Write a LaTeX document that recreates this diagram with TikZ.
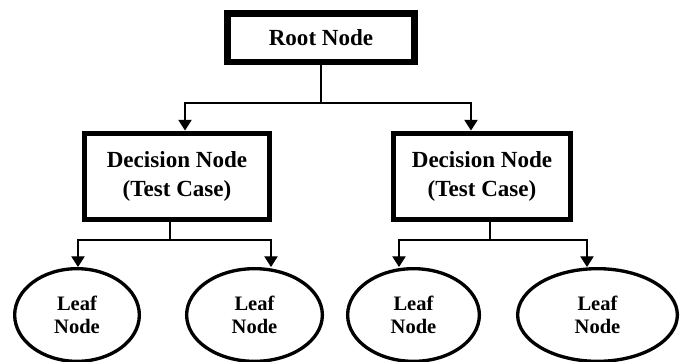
\documentclass[tikz,border=0pt]{standalone}
\usepackage{fontspec}
\setmainfont{Liberation Serif}
\usepackage{tikz}
\usetikzlibrary{positioning,calc,arrows.meta,shapes.geometric}

\begin{document}
\begin{tikzpicture}[x=0.75pt, y=-0.75pt, >={Triangle[width=10pt,length=8pt]}, line width=0.9pt,
  rootbox/.style = {rectangle, draw, line width=4.9pt, minimum width=140pt, minimum height=36.4pt, inner sep=0pt, font=\fontsize{17.3}{21.5}\selectfont\bfseries},
  decbox/.style = {rectangle, draw, line width=3.75pt, minimum height=64.5pt, inner sep=0pt, align=center, font=\fontsize{17.3}{21.7}\selectfont\bfseries},
  leaf/.style = {ellipse, draw, line width=2.5pt, minimum height=69.5pt, inner sep=0pt, align=center, font=\fontsize{15.4}{17.3}\selectfont\bfseries}]

\useasboundingbox (0,0) rectangle (688,361);

\node[rootbox] (R) at (321,37.5) {Root Node};
\node[decbox, minimum width=138.75pt] (D1) at (177,176) {Decision Node\\(Test Case)};
\node[decbox, minimum width=132.75pt] (D2) at (482,176) {Decision Node\\(Test Case)};

\node[leaf, minimum width=93.5pt] (L1) at (77,315) {Leaf\\Node};
\node[leaf, minimum width=101.8pt] (L2) at (254.5,315) {Leaf\\Node};
\node[leaf, minimum width=98.8pt] (L3) at (413.5,315) {Leaf\\Node};
\node[leaf, minimum width=119.8pt] (L4) at (597.5,315) {Leaf\\Node};

% branch points
\coordinate (j0) at (321,103);
\coordinate (a1) at (185,103);
\coordinate (a2) at (471,103);
\coordinate (j1) at (170,240);
\coordinate (b1) at (78,240);
\coordinate (b2) at (271,240);
\coordinate (j2) at (490,240);
\coordinate (b3) at (399,240);
\coordinate (b4) at (587,240);

\draw (R) -- (j0);
\draw[->] (j0) -- (a1) -- (a1 |- D1.north);
\draw[->] (j0) -- (a2) -- (a2 |- D2.north);

\draw (D1.south -| j1) -- (j1);
\draw[->] (j1) -- (b1) -- (b1 |- L1.north);
\draw[->] (j1) -- (b2) -- (b2 |- L2.north);

\draw (D2.south -| j2) -- (j2);
\draw[->] (j2) -- (b3) -- (b3 |- L3.north);
\draw[->] (j2) -- (b4) -- (b4 |- L4.north);
\end{tikzpicture}
\end{document}
